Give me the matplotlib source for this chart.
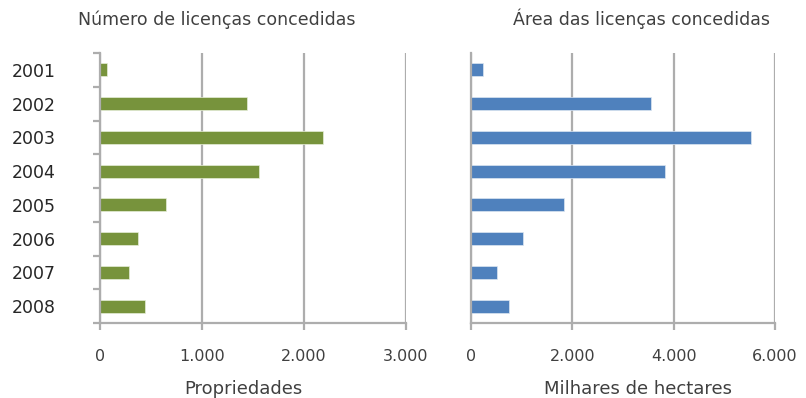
"""
Licenças concedidas por ano: número de propriedades e área (milhares de ha).
"""

import numpy as np
import matplotlib.pyplot as plt

anos = ["2001", "2002", "2003", "2004", "2005", "2006", "2007", "2008"]
num_licencas = [65, 1440, 2185, 1560, 650, 370, 280, 440]
area_licencas = [240, 3550, 5530, 3820, 1840, 1020, 510, 750]

GREEN = "#77933C"
BLUE = "#4F81BD"
GRID = "#ADADAD"
TEXT = "#404040"

fig = plt.figure(figsize=(8.06, 3.98), dpi=100)
ax1 = fig.add_axes([100 / 806, 75 / 398, 306 / 806, 270 / 398])
ax2 = fig.add_axes([471 / 806, 75 / 398, 304 / 806, 270 / 398])

y = np.arange(len(anos))


def style_axis(ax, xmax, step, yticks):
    ax.set_xlim(0, xmax)
    ax.set_ylim(len(anos) - 0.5, -0.5)
    ax.set_xticks(np.arange(0, xmax + 1, step))
    ax.set_xticklabels([f"{v:,.0f}".replace(",", ".") for v in np.arange(0, xmax + 1, step)])
    ax.grid(axis="x", color=GRID, linewidth=1.6)
    ax.set_axisbelow(True)
    for side in ("top", "right"):
        ax.spines[side].set_visible(False)
    for side in ("left", "bottom"):
        ax.spines[side].set_color(GRID)
        ax.spines[side].set_linewidth(1.6)
    ax.tick_params(axis="x", colors=GRID, length=5, width=1.6, pad=14,
                   labelcolor=TEXT, labelsize=11.5)
    if yticks:
        # boundary ticks between categories, year labels centred on the bars
        ax.set_yticks(np.arange(-0.5, len(anos), 1.0), minor=False)
        ax.set_yticklabels([])
        ax.set_yticks(y, minor=True)
        ax.set_yticklabels(anos, minor=True)
        ax.tick_params(axis="y", which="major", colors=GRID, length=5, width=1.6)
        ax.tick_params(axis="y", which="minor", length=0, pad=32,
                       labelcolor="#262626", labelsize=12.5)
    else:
        ax.set_yticks([])


ax1.barh(y, num_licencas, height=0.39, color=GREEN, edgecolor="#E6EED8", linewidth=0.5)
style_axis(ax1, 3000, 1000, True)
ax1.set_title("Número de licenças concedidas", color=TEXT, fontsize=12.5, pad=20,
              x=0.38)
ax1.set_xlabel("Propriedades", color=TEXT, fontsize=13)
ax1.xaxis.set_label_coords(0.47, -0.21)

ax2.barh(y, area_licencas, height=0.39, color=BLUE, edgecolor="#DCE6F2", linewidth=0.5)
style_axis(ax2, 6000, 2000, False)
ax2.set_title("Área das licenças concedidas", color=TEXT, fontsize=12.5, pad=20,
              x=0.56)
ax2.set_xlabel("Milhares de hectares", color=TEXT, fontsize=13)
ax2.xaxis.set_label_coords(0.55, -0.21)

fig.savefig("out.png", dpi=100, facecolor="white")
